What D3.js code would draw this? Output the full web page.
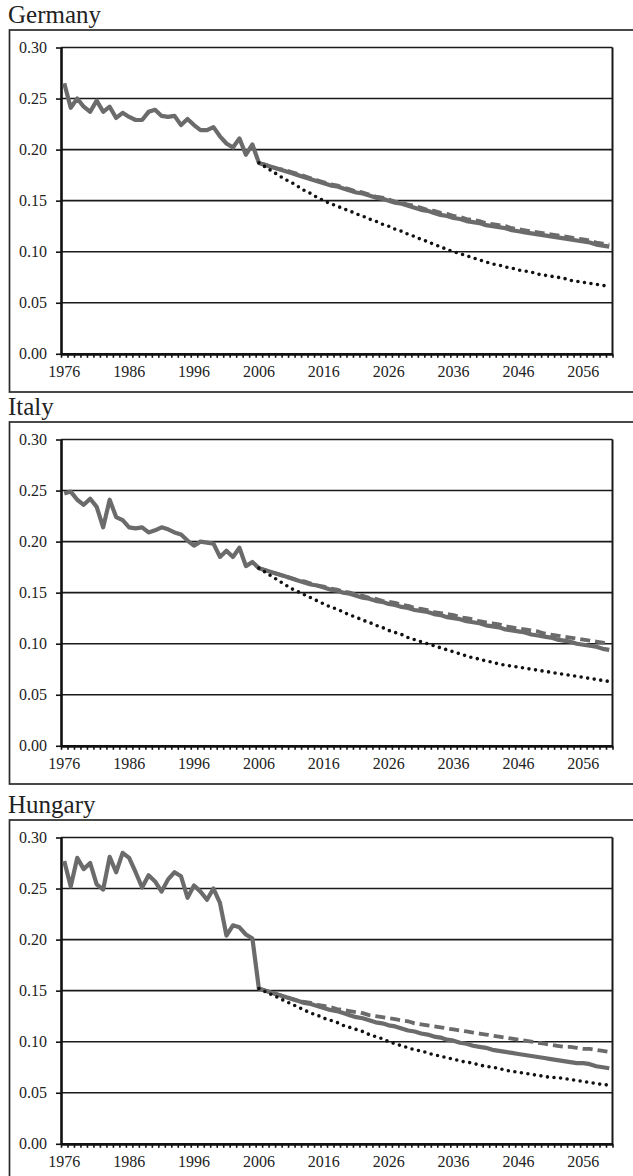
<!DOCTYPE html>
<html>
<head>
<meta charset="utf-8">
<script src="https://cdn.jsdelivr.net/npm/d3@7"></script>
<style>
  html, body { margin: 0; padding: 0; background: #fff; }
  svg { display: block; }
  svg text { font-family: "Liberation Serif", "Times New Roman", Times, "DejaVu Serif", serif !important; }
</style>
</head>
<body>
<svg id="chart" width="633" height="1176"></svg>
<script>
// ---------------- DATA ----------------
const countries = ["Germany", "Italy", "Hungary"];
const xTickLabels = ["1976", "1986", "1996", "2006", "2016", "2026", "2036", "2046", "2056"];
const yTickLabels = ["0.00", "0.05", "0.10", "0.15", "0.20", "0.25", "0.30"];
const firstYear = 1976, lastYear = 2060, projStart = 2006;

// Historical values 1976-2006
const germanyHist = [0.265,0.241,0.250,0.242,0.237,0.248,0.237,0.242,0.231,0.236,0.232,0.229,0.229,0.237,0.239,0.233,0.232,0.233,0.224,0.230,0.224,0.219,0.219,0.222,0.213,0.206,0.202,0.211,0.195,0.205,0.187];
const italyHist = [0.247,0.249,0.241,0.236,0.242,0.234,0.214,0.241,0.224,0.221,0.214,0.213,0.214,0.209,0.211,0.214,0.212,0.209,0.207,0.201,0.196,0.200,0.199,0.198,0.185,0.191,0.185,0.194,0.176,0.180,0.174];
const hungaryHist = [0.277,0.252,0.280,0.269,0.275,0.254,0.249,0.281,0.266,0.285,0.280,0.266,0.251,0.263,0.257,0.247,0.259,0.266,0.262,0.241,0.253,0.247,0.239,0.250,0.236,0.204,0.214,0.212,0.205,0.201,0.152];

// Projections 2006-2060: solid scenario
const germanySolid = [0.187,0.185,0.183,0.181,0.179,0.177,0.175,0.173,0.171,0.169,0.167,0.165,0.164,0.162,0.160,0.158,0.157,0.155,0.153,0.152,0.150,0.148,0.147,0.145,0.143,0.141,0.140,0.138,0.136,0.135,0.133,0.132,0.130,0.129,0.128,0.126,0.125,0.124,0.123,0.121,0.120,0.119,0.118,0.117,0.116,0.115,0.114,0.113,0.112,0.111,0.110,0.109,0.107,0.106,0.105];
const italySolid = [0.174,0.172,0.170,0.168,0.166,0.164,0.162,0.160,0.158,0.157,0.155,0.153,0.152,0.150,0.149,0.147,0.145,0.144,0.142,0.141,0.139,0.138,0.136,0.135,0.133,0.132,0.131,0.129,0.128,0.126,0.125,0.124,0.122,0.121,0.120,0.118,0.117,0.116,0.114,0.113,0.112,0.111,0.109,0.108,0.107,0.106,0.104,0.103,0.102,0.100,0.099,0.098,0.097,0.095,0.094];
const hungarySolid = [0.152,0.150,0.148,0.146,0.144,0.142,0.140,0.138,0.137,0.135,0.133,0.131,0.130,0.128,0.126,0.124,0.123,0.121,0.119,0.118,0.116,0.115,0.113,0.111,0.110,0.108,0.107,0.105,0.104,0.102,0.101,0.099,0.098,0.096,0.095,0.094,0.092,0.091,0.090,0.089,0.088,0.087,0.086,0.085,0.084,0.083,0.082,0.081,0.080,0.079,0.079,0.078,0.076,0.075,0.074];

// Projections 2006-2060: dashed scenario
const germanyDashed = [0.187,0.185,0.183,0.181,0.180,0.178,0.176,0.174,0.172,0.170,0.168,0.166,0.165,0.163,0.161,0.159,0.158,0.156,0.154,0.153,0.151,0.149,0.148,0.146,0.145,0.143,0.141,0.140,0.138,0.137,0.135,0.134,0.132,0.131,0.130,0.128,0.127,0.126,0.125,0.123,0.122,0.121,0.120,0.119,0.118,0.117,0.116,0.115,0.114,0.113,0.112,0.111,0.109,0.108,0.107];
const italyDashed = [0.174,0.172,0.170,0.168,0.166,0.164,0.162,0.161,0.159,0.157,0.156,0.154,0.153,0.151,0.150,0.148,0.147,0.145,0.144,0.142,0.141,0.140,0.138,0.137,0.135,0.134,0.133,0.131,0.130,0.129,0.128,0.126,0.125,0.124,0.122,0.121,0.120,0.119,0.117,0.116,0.115,0.114,0.113,0.112,0.110,0.109,0.108,0.107,0.106,0.105,0.104,0.103,0.102,0.101,0.100];
const hungaryDashed = [0.152,0.150,0.148,0.146,0.144,0.142,0.140,0.139,0.138,0.136,0.135,0.134,0.132,0.131,0.130,0.129,0.128,0.126,0.125,0.124,0.123,0.122,0.121,0.120,0.118,0.117,0.116,0.115,0.114,0.113,0.112,0.111,0.110,0.109,0.108,0.107,0.106,0.105,0.104,0.103,0.102,0.101,0.100,0.099,0.098,0.097,0.096,0.095,0.095,0.094,0.093,0.093,0.092,0.091,0.090];

// Projections 2006-2060: dotted scenario
const germanyDotted = [0.187,0.183,0.179,0.175,0.171,0.168,0.164,0.160,0.157,0.153,0.150,0.147,0.145,0.142,0.140,0.137,0.135,0.132,0.130,0.127,0.125,0.122,0.120,0.117,0.115,0.112,0.110,0.107,0.105,0.102,0.100,0.098,0.096,0.094,0.092,0.090,0.088,0.087,0.085,0.084,0.082,0.081,0.080,0.078,0.077,0.076,0.075,0.074,0.072,0.071,0.070,0.069,0.068,0.067,0.066];
const italyDotted = [0.174,0.170,0.166,0.162,0.158,0.154,0.151,0.148,0.145,0.142,0.139,0.136,0.134,0.131,0.128,0.126,0.123,0.121,0.118,0.116,0.113,0.111,0.109,0.106,0.104,0.102,0.100,0.098,0.096,0.094,0.092,0.090,0.088,0.086,0.085,0.083,0.082,0.080,0.079,0.078,0.077,0.076,0.075,0.074,0.073,0.072,0.071,0.070,0.069,0.068,0.067,0.066,0.065,0.064,0.063];
const hungaryDotted = [0.152,0.149,0.146,0.143,0.140,0.137,0.134,0.131,0.128,0.126,0.123,0.121,0.119,0.116,0.114,0.112,0.110,0.107,0.105,0.103,0.100,0.098,0.096,0.094,0.092,0.091,0.089,0.087,0.086,0.084,0.083,0.081,0.080,0.079,0.077,0.076,0.075,0.074,0.072,0.071,0.070,0.069,0.068,0.067,0.066,0.065,0.065,0.064,0.063,0.062,0.061,0.060,0.059,0.058,0.0575];

const histData = [germanyHist, italyHist, hungaryHist];
const solidData = [germanySolid, italySolid, hungarySolid];
const dashedData = [germanyDashed, italyDashed, hungaryDashed];
const dottedData = [germanyDotted, italyDotted, hungaryDotted];

// ---------------- LAYOUT ----------------
const boxTops = [30, 422, 820];
const plotLeft = 61, plotRight = 612.5;
const plotOffset = 17.5, plotH = 306.3, boxH = 362;
const FONT = '"Liberation Serif", "Times New Roman", Times, serif';
const grey = "#6b6b6b";

const svg = d3.select("#chart");
svg.append("rect").attr("width", 633).attr("height", 1176).attr("fill", "#fff");

const years = d3.range(firstYear, lastYear + 1);
const projYears = d3.range(projStart, lastYear + 1);
const histYears = d3.range(firstYear, projStart + 1);
const yTickVals = yTickLabels.map(Number);

countries.forEach((name, i) => {
  const top = boxTops[i];
  const yTop = top + plotOffset, yBot = yTop + plotH;
  const g = svg.append("g");

  // title
  g.append("text").attr("x", 8).attr("y", top - 7)
    .style("font-family", FONT).style("font-size", "25px").attr("fill", "#222")
    .text(name);

  // outer chart box (extends past right edge)
  g.append("rect").attr("x", 9.5).attr("y", top).attr("width", 700).attr("height", boxH)
    .attr("fill", "none").attr("stroke", "#2a2a2a").attr("stroke-width", 1.7);

  const x = d3.scaleBand().domain(years).range([plotLeft, plotRight]);
  const xb = d3.scaleLinear().domain([firstYear - 0.5, lastYear + 0.5]).range([plotLeft, plotRight]);
  const y = d3.scaleLinear().domain([0, 0.30]).range([yBot, yTop]);
  const cx = d => x(d) + x.bandwidth() / 2;

  // gridlines
  g.append("g").selectAll("line").data(yTickVals.filter(v => v > 0)).join("line")
    .attr("x1", plotLeft).attr("x2", plotRight)
    .attr("y1", d => y(d)).attr("y2", d => y(d))
    .attr("stroke", "#1a1a1a").attr("stroke-width", 1.6);

  // right border of plot area
  g.append("line").attr("x1", plotRight).attr("x2", plotRight).attr("y1", yTop).attr("y2", yBot)
    .attr("stroke", "#1a1a1a").attr("stroke-width", 2);

  // y axis
  const ya = g.append("g").attr("transform", `translate(${plotLeft},0)`)
    .call(d3.axisLeft(y).tickValues(yTickVals).tickFormat((d, j) => yTickLabels[j]).tickSize(5).tickSizeOuter(0).tickPadding(9));
  ya.attr("font-family", null).attr("font-size", null);
  ya.select(".domain").attr("stroke", "#111").attr("stroke-width", 2.6);
  ya.selectAll(".tick line").attr("stroke", "#111").attr("stroke-width", 1.6);
  ya.selectAll("text").style("font-family", FONT).style("font-size", "16px").attr("fill", "#222");

  // x axis ticks at category boundaries
  const xt = g.append("g").attr("transform", `translate(0,${yBot})`)
    .call(d3.axisBottom(xb).tickValues(d3.range(firstYear - 0.5, lastYear + 1, 1)).tickFormat("").tickSize(4).tickSizeOuter(0));
  xt.select(".domain").attr("stroke", "#111").attr("stroke-width", 2.8);
  xt.selectAll(".tick line").attr("stroke", "#111").attr("stroke-width", 1.6);

  // x labels
  const xl = g.append("g").attr("transform", `translate(0,${yBot})`)
    .call(d3.axisBottom(x).tickValues(xTickLabels.map(Number)).tickFormat((d, j) => xTickLabels[j]).tickSize(0).tickPadding(12));
  xl.attr("font-family", null).attr("font-size", null);
  xl.select(".domain").remove();
  xl.selectAll("text").style("font-family", FONT).style("font-size", "16px").attr("fill", "#222");

  const line = d3.line().x(d => cx(d[0])).y(d => y(d[1]));

  // solid: history + solid projection
  const solidPts = histYears.map((yr, k) => [yr, histData[i][k]])
    .concat(projYears.slice(1).map((yr, k) => [yr, solidData[i][k + 1]]));
  g.append("path").attr("d", line(solidPts)).attr("fill", "none")
    .attr("stroke", grey).attr("stroke-width", 4.2).attr("stroke-linejoin", "round");

  // dashed projection
  g.append("path").attr("d", line(projYears.map((yr, k) => [yr, dashedData[i][k]]))).attr("fill", "none")
    .attr("stroke", grey).attr("stroke-width", 3.8).attr("stroke-dasharray", "10,5").attr("stroke-linejoin", "round");

  // dotted projection
  g.append("path").attr("d", line(projYears.map((yr, k) => [yr, dottedData[i][k]]))).attr("fill", "none")
    .attr("stroke", "#111").attr("stroke-width", 3.6).attr("stroke-dasharray", "0,6.6").attr("stroke-linecap", "round");
});
</script>
</body>
</html>
